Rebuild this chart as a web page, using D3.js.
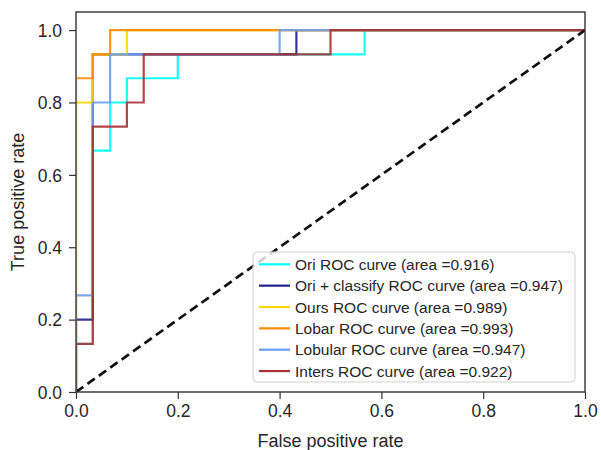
<!DOCTYPE html>
<html>
<head>
<meta charset="utf-8">
<script src="https://cdn.jsdelivr.net/npm/d3@7"></script>
<style>
  body { margin: 0; background: #fff; }
  svg text { font-family: "Liberation Sans", Arial, sans-serif; fill: #262626; }
</style>
</head>
<body>
<svg id="chart" width="601" height="450"></svg>
<script>
// ROC curves
var oriFpr      = [0, 0, 0.033, 0.033, 0.067, 0.067, 0.1, 0.1, 0.2, 0.2, 0.567, 0.567, 1];
var oriTpr      = [0, 0.133, 0.133, 0.667, 0.667, 0.8, 0.8, 0.867, 0.867, 0.933, 0.933, 1, 1];
var classifyFpr = [0, 0, 0.033, 0.033, 0.433, 0.433, 1];
var classifyTpr = [0, 0.2, 0.2, 0.933, 0.933, 1, 1];
var oursFpr     = [0, 0, 0.033, 0.033, 0.1, 0.1, 1];
var oursTpr     = [0, 0.8, 0.8, 0.933, 0.933, 1, 1];
var lobarFpr    = [0, 0, 0.033, 0.033, 0.067, 0.067, 1];
var lobarTpr    = [0, 0.867, 0.867, 0.933, 0.933, 1, 1];
var lobularFpr  = [0, 0, 0.033, 0.033, 0.067, 0.067, 0.4, 0.4, 1];
var lobularTpr  = [0, 0.267, 0.267, 0.8, 0.8, 0.933, 0.933, 1, 1];
var intersFpr   = [0, 0, 0.033, 0.033, 0.1, 0.1, 0.133, 0.133, 0.5, 0.5, 1];
var intersTpr   = [0, 0.133, 0.133, 0.733, 0.733, 0.8, 0.8, 0.933, 0.933, 1, 1];

var labels = [
    "Ori ROC curve (area =0.916)",
    "Ori + classify ROC curve (area =0.947)",
    "Ours ROC curve (area =0.989)",
    "Lobar ROC curve (area =0.993)",
    "Lobular ROC curve (area =0.947)",
    "Inters ROC curve (area =0.922)"
];
var colors = ["#00ffff", "#1f1f8f", "#ffd700", "#ff8c00", "#6f9cf0", "#a83232"];
var tickValues = [0, 0.2, 0.4, 0.6, 0.8, 1.0];

var series = [
    [oriFpr, oriTpr], [classifyFpr, classifyTpr], [oursFpr, oursTpr],
    [lobarFpr, lobarTpr], [lobularFpr, lobularTpr], [intersFpr, intersTpr]
];

var svg = d3.select("#chart");
var plotLeft = 76, plotRight = 585, plotTop = 12, plotBottom = 392;

var x = d3.scaleLinear().domain([0, 1]).range([plotLeft, plotRight]);
var y = d3.scaleLinear().domain([0, 1.05]).range([plotBottom, plotTop]);

var line = d3.line()
    .x(function (d) { return x(d[0]); })
    .y(function (d) { return y(d[1]); });

svg.append("clipPath").attr("id", "plot-clip")
    .append("rect")
    .attr("x", plotLeft + 0.8).attr("y", plotTop)
    .attr("width", plotRight - plotLeft - 0.8).attr("height", plotBottom - plotTop);

var plot = svg.append("g").attr("clip-path", "url(#plot-clip)");

// curves
series.forEach(function (s, i) {
    var pts = s[0].map(function (v, j) { return [v, s[1][j]]; });
    plot.append("path")
        .attr("d", line(pts))
        .attr("fill", "none")
        .attr("stroke", colors[i])
        .attr("stroke-width", 2.2)
        .attr("stroke-opacity", 0.9);
});

// chance diagonal
plot.append("path")
    .attr("d", line([[0, 0], [1, 1]]))
    .attr("fill", "none")
    .attr("stroke", "#111")
    .attr("stroke-width", 2.7)
    .attr("stroke-dasharray", "9,5");

// frame
svg.append("rect")
    .attr("x", plotLeft).attr("y", plotTop)
    .attr("width", plotRight - plotLeft).attr("height", plotBottom - plotTop)
    .attr("fill", "none").attr("stroke", "#333").attr("stroke-width", 1.4);

var xAxis = svg.append("g")
    .attr("transform", "translate(0," + plotBottom + ")")
    .call(d3.axisBottom(x).tickValues(tickValues).tickFormat(d3.format(".1f")).tickSize(7).tickPadding(6));
var yAxis = svg.append("g")
    .attr("transform", "translate(" + plotLeft + ",0)")
    .call(d3.axisLeft(y).tickValues(tickValues).tickFormat(d3.format(".1f")).tickSize(7).tickPadding(7));

[xAxis, yAxis].forEach(function (a) {
    a.select(".domain").remove();
    a.selectAll(".tick line").attr("stroke", "#333").attr("stroke-width", 1.2);
    a.selectAll(".tick text").style("font-size", "17.5px").attr("fill", "#262626");
});
yAxis.selectAll(".tick text").attr("dy", "0.36em");

svg.append("text")
    .attr("x", (plotLeft + plotRight) / 2).attr("y", 447)
    .attr("text-anchor", "middle")
    .style("font-size", "18px")
    .text("False positive rate");

svg.append("text")
    .attr("transform", "translate(24," + ((plotTop + plotBottom) / 2) + ") rotate(-90)")
    .attr("text-anchor", "middle")
    .style("font-size", "18px")
    .text("True positive rate");

// legend
var legend = svg.append("g");
legend.append("rect")
    .attr("x", 253).attr("y", 252)
    .attr("width", 322).attr("height", 130)
    .attr("rx", 4)
    .attr("fill", "#fff").attr("fill-opacity", 0.8)
    .attr("stroke", "#d0d0d0");

labels.forEach(function (t, i) {
    var cy = 264.3 + i * 21.35;
    legend.append("line")
        .attr("x1", 259).attr("x2", 290)
        .attr("y1", cy).attr("y2", cy)
        .attr("stroke", colors[i]).attr("stroke-width", 2.2);
    legend.append("text")
        .attr("x", 295).attr("y", cy + 5.5)
        .style("font-size", "15.5px")
        .text(t);
});
</script>
</body>
</html>
